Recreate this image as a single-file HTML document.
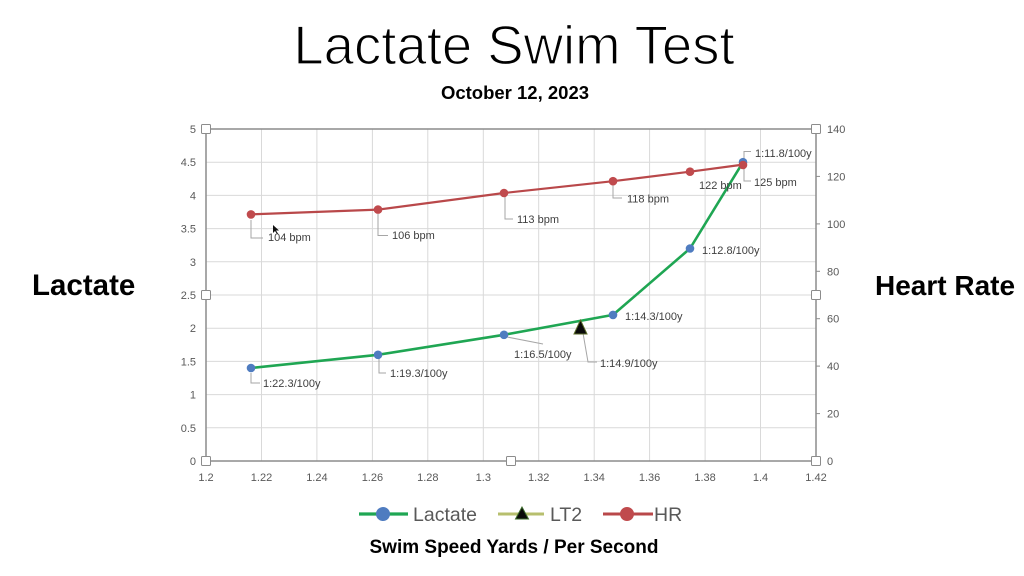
<!DOCTYPE html>
<html>
<head>
<meta charset="utf-8">
<style>
  html, body { margin:0; padding:0; background:#fff; }
  body { width:1024px; height:576px; overflow:hidden; }
  svg { display:block; }
  .t { font-family:"Liberation Sans", Arial, sans-serif; }
</style>
</head>
<body>
<svg width="1024" height="576" viewBox="0 0 1024 576" xmlns="http://www.w3.org/2000/svg" class="t">
  <rect width="1024" height="576" fill="#fff"/>

  <!-- Titles -->
  <text x="514" y="64" text-anchor="middle" font-size="54.5" font-weight="300" fill="#000" stroke="#fff" stroke-width="1.3" font-family="Liberation Sans, sans-serif">Lactate Swim Test</text>
  <text x="515" y="99" text-anchor="middle" font-size="18.5" font-weight="bold" fill="#000" font-family="Liberation Sans, sans-serif">October 12, 2023</text>
  <text x="32" y="295" font-size="29.5" font-weight="bold" fill="#000" font-family="Liberation Sans, sans-serif">Lactate</text>
  <text x="875" y="295" font-size="28" font-weight="bold" fill="#000" font-family="Liberation Sans, sans-serif">Heart Rate</text>
  <text x="514" y="553" text-anchor="middle" font-size="19" font-weight="bold" fill="#000" font-family="Liberation Sans, sans-serif">Swim Speed Yards / Per Second</text>

  <!-- Gridlines -->
  <g stroke="#d9d9d9" stroke-width="1">
    <line x1="261.5" y1="129" x2="261.5" y2="461"/>
    <line x1="316.9" y1="129" x2="316.9" y2="461"/>
    <line x1="372.4" y1="129" x2="372.4" y2="461"/>
    <line x1="427.8" y1="129" x2="427.8" y2="461"/>
    <line x1="483.3" y1="129" x2="483.3" y2="461"/>
    <line x1="538.7" y1="129" x2="538.7" y2="461"/>
    <line x1="594.2" y1="129" x2="594.2" y2="461"/>
    <line x1="649.6" y1="129" x2="649.6" y2="461"/>
    <line x1="705.1" y1="129" x2="705.1" y2="461"/>
    <line x1="760.5" y1="129" x2="760.5" y2="461"/>
    <line x1="206" y1="427.8" x2="816" y2="427.8"/>
    <line x1="206" y1="394.6" x2="816" y2="394.6"/>
    <line x1="206" y1="361.4" x2="816" y2="361.4"/>
    <line x1="206" y1="328.2" x2="816" y2="328.2"/>
    <line x1="206" y1="295" x2="816" y2="295"/>
    <line x1="206" y1="261.8" x2="816" y2="261.8"/>
    <line x1="206" y1="228.6" x2="816" y2="228.6"/>
    <line x1="206" y1="195.4" x2="816" y2="195.4"/>
    <line x1="206" y1="162.2" x2="816" y2="162.2"/>
  </g>

  <!-- Plot border / axes -->
  <rect x="206" y="129" width="610" height="332" fill="none" stroke="#8c8c8c" stroke-width="1.5"/>
  <g stroke="#8c8c8c" stroke-width="1">
    <line x1="816" y1="413.6" x2="820" y2="413.6"/>
    <line x1="816" y1="366.1" x2="820" y2="366.1"/>
    <line x1="816" y1="318.7" x2="820" y2="318.7"/>
    <line x1="816" y1="271.3" x2="820" y2="271.3"/>
    <line x1="816" y1="223.9" x2="820" y2="223.9"/>
    <line x1="816" y1="176.4" x2="820" y2="176.4"/>
  </g>

  <!-- Left axis labels -->
  <g font-size="11" fill="#595959" text-anchor="end">
    <text x="196" y="465">0</text>
    <text x="196" y="431.8">0.5</text>
    <text x="196" y="398.6">1</text>
    <text x="196" y="365.4">1.5</text>
    <text x="196" y="332.2">2</text>
    <text x="196" y="299">2.5</text>
    <text x="196" y="265.8">3</text>
    <text x="196" y="232.6">3.5</text>
    <text x="196" y="199.4">4</text>
    <text x="196" y="166.2">4.5</text>
    <text x="196" y="133">5</text>
  </g>
  <!-- Right axis labels -->
  <g font-size="11" fill="#595959">
    <text x="827" y="465">0</text>
    <text x="827" y="417.6">20</text>
    <text x="827" y="370.1">40</text>
    <text x="827" y="322.7">60</text>
    <text x="827" y="275.3">80</text>
    <text x="827" y="227.9">100</text>
    <text x="827" y="180.4">120</text>
    <text x="827" y="133">140</text>
  </g>
  <!-- Bottom axis labels -->
  <g font-size="11" fill="#595959" text-anchor="middle">
    <text x="206" y="481">1.2</text>
    <text x="261.5" y="481">1.22</text>
    <text x="316.9" y="481">1.24</text>
    <text x="372.4" y="481">1.26</text>
    <text x="427.8" y="481">1.28</text>
    <text x="483.3" y="481">1.3</text>
    <text x="538.7" y="481">1.32</text>
    <text x="594.2" y="481">1.34</text>
    <text x="649.6" y="481">1.36</text>
    <text x="705.1" y="481">1.38</text>
    <text x="760.5" y="481">1.4</text>
    <text x="816" y="481">1.42</text>
  </g>

  <!-- Leader lines -->
  <g stroke="#a6a6a6" stroke-width="1" fill="none">
    <path d="M251 220 V238 H263"/>
    <path d="M378 214 V235.5 H388"/>
    <path d="M505 197 V219 H513"/>
    <path d="M613 185 V198 H622"/>
    <path d="M744 168 V181 H751"/>
    <path d="M744 160 V151.5 H751"/>
    <path d="M507 337 L543 344"/>
    <path d="M583 333 L588 362 H597"/>
    <path d="M251 373 V383 H260"/>
    <path d="M379 358 V373 H386"/>
  </g>

  <!-- HR series -->
  <polyline points="251,214.4 378,209.6 504,193 613,181.2 690,171.7 743,164.6" fill="none" stroke="#b9484a" stroke-width="2.2" stroke-linejoin="round"/>

  <!-- Lactate series -->
  <polyline points="251,368 378,354.8 504,334.8 613,314.9 690,248.5 743,162.2" fill="none" stroke="#1fa653" stroke-width="2.6" stroke-linejoin="round" stroke-linecap="round"/>

  <!-- Lactate markers -->
  <g fill="#4f7cc0">
    <circle cx="251" cy="368" r="4.3"/>
    <circle cx="378" cy="354.8" r="4.3"/>
    <circle cx="504" cy="334.8" r="4.3"/>
    <circle cx="613" cy="314.9" r="4.3"/>
    <circle cx="690" cy="248.5" r="4.3"/>
    <circle cx="743" cy="162.2" r="4.3"/>
  </g>
  <!-- HR markers -->
  <g fill="#c04a4d">
    <circle cx="251" cy="214.4" r="4.3"/>
    <circle cx="378" cy="209.6" r="4.3"/>
    <circle cx="504" cy="193" r="4.3"/>
    <circle cx="613" cy="181.2" r="4.3"/>
    <circle cx="690" cy="171.7" r="4.3"/>
    <circle cx="743" cy="165" r="4.3"/>
  </g>

  <!-- LT2 marker -->
  <polygon points="580.5,320 574,334 587,334" fill="#0a0a0a" stroke="#5b6b2a" stroke-width="1"/>

  <!-- Data labels -->
  <g font-size="11" fill="#404040">
    <text x="268" y="241">104 bpm</text>
    <text x="392" y="239">106 bpm</text>
    <text x="517" y="223">113 bpm</text>
    <text x="627" y="202.5">118 bpm</text>
    <text x="699" y="189">122 bpm</text>
    <text x="754" y="186">125 bpm</text>
    <text x="755" y="157">1:11.8/100y</text>
    <text x="702" y="254">1:12.8/100y</text>
    <text x="625" y="320">1:14.3/100y</text>
    <text x="514" y="358">1:16.5/100y</text>
    <text x="600" y="367">1:14.9/100y</text>
    <text x="263" y="387">1:22.3/100y</text>
    <text x="390" y="377">1:19.3/100y</text>
  </g>

  <!-- Selection handles -->
  <g fill="#fff" stroke="#8c8c8c" stroke-width="1">
    <rect x="201.5" y="124.5" width="9" height="9" rx="1"/>
    <rect x="201.5" y="290.5" width="9" height="9" rx="1"/>
    <rect x="201.5" y="456.5" width="9" height="9" rx="1"/>
    <rect x="506.5" y="456.5" width="9" height="9" rx="1"/>
    <rect x="811.5" y="456.5" width="9" height="9" rx="1"/>
    <rect x="811.5" y="290.5" width="9" height="9" rx="1"/>
    <rect x="811.5" y="124.5" width="9" height="9" rx="1"/>
  </g>

  <!-- mouse cursor -->
  <polygon points="273,225 273,233 275,231 277,234 278,233.5 276,230.5 279,230.5" fill="#111"/>

  <!-- Legend -->
  <line x1="359" y1="514" x2="408" y2="514" stroke="#1fa653" stroke-width="3.2"/>
  <circle cx="383" cy="514" r="7" fill="#4f7cc0"/>
  <text x="413" y="521" font-size="19.5" fill="#595959">Lactate</text>

  <line x1="498" y1="514" x2="544" y2="514" stroke="#b7bf6e" stroke-width="3"/>
  <polygon points="522,507 515.5,519 528.5,519" fill="#0a0a0a" stroke="#3a6b2a" stroke-width="1"/>
  <text x="550" y="521" font-size="19.5" fill="#595959">LT2</text>

  <line x1="603" y1="514" x2="653" y2="514" stroke="#b9484a" stroke-width="3"/>
  <circle cx="627" cy="514" r="7" fill="#c04a4d"/>
  <text x="654" y="521" font-size="19.5" fill="#595959">HR</text>
</svg>
</body>
</html>
